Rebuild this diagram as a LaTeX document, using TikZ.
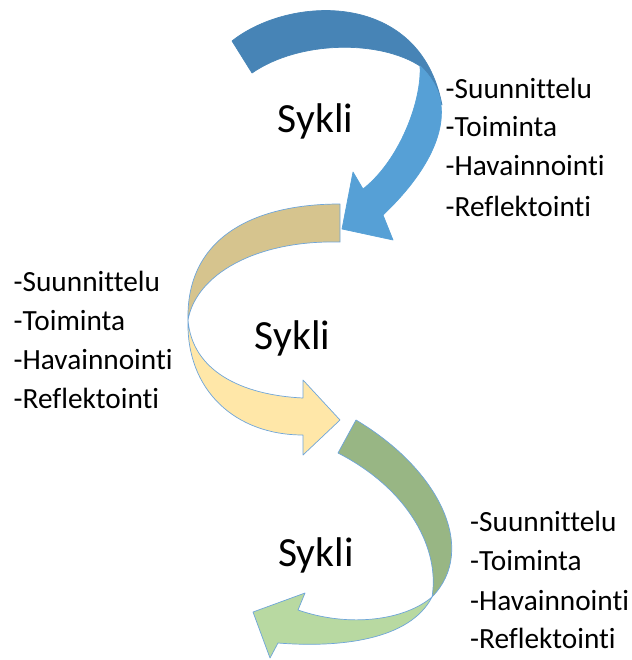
\documentclass[tikz,border=0pt]{standalone}
\usepackage{fontspec}
\setmainfont{Carlito}[Ligatures=NoCommon]
\definecolor{bluedark}{RGB}{71,132,182}
\definecolor{bluelight}{RGB}{86,160,214}
\definecolor{tandark}{RGB}{214,196,142}
\definecolor{yellowlight}{RGB}{255,231,168}
\definecolor{greendark}{RGB}{152,182,132}
\definecolor{greenlight}{RGB}{184,217,161}
\definecolor{edgeblue}{RGB}{110,165,218}
\tikzset{
  band/.style={draw=edgeblue, line width=0.7pt, line join=round},
  cyclelabel/.style={font=\fontsize{41.5}{49}\selectfont, inner sep=0pt, anchor=base},
  itemlabel/.style={font=\fontsize{29.3}{39}\selectfont, inner sep=0pt, anchor=base west},
}
\begin{document}
\begin{tikzpicture}[x=1pt,y=-1pt]
\useasboundingbox (0,0) rectangle (631,660);
% ---- blue arrow ----
\path[band, fill=bluedark, draw=bluedark]
  (232,41) .. controls (290,-5) and (420,-10) .. (442,105)
  -- (420,66) .. controls (380,40) and (300,40) .. (252,73) -- cycle;
\path[band, fill=bluelight, draw=bluelight]
  (420,66) .. controls (422,100) and (400,160) .. (363,189)
  -- (353,172) -- (342,229) -- (393,240) -- (383,215)
  .. controls (420,180) and (445,140) .. (441,105)
  .. controls (440,90) and (430,75) .. (420,66) -- cycle;
% ---- tan / yellow arrow ----
\path[band, fill=tandark]
  (340,204) .. controls (250,204) and (186,240) .. (188,320)
  .. controls (196,275) and (255,240) .. (340,242) -- cycle;
\path[band, fill=yellowlight]
  (188,320) .. controls (186,390) and (235,435) .. (303,435)
  -- (303,455) -- (340,420) -- (303,380) -- (303,398)
  .. controls (240,395) and (192,370) .. (188,320) -- cycle;
% ---- green arrow ----
\path[band, fill=greendark]
  (356,420) .. controls (440,470) and (478,550) .. (432,597)
  .. controls (440,550) and (410,490) .. (338,453) -- cycle;
\path[band, fill=greenlight]
  (432,597) .. controls (410,640) and (340,648) .. (278,643)
  -- (270,658) -- (253,612) -- (305,593) -- (298,610)
  .. controls (350,628) and (405,620) .. (432,597) -- cycle;
% ---- labels ----
\node[cyclelabel] (s1) at (315.5,133) {Sykli};
\node[cyclelabel] (s2) at (292.5,349) {Sykli};
\node[cyclelabel] (s3) at (316,566) {Sykli};
\node[itemlabel] (a1) at (445.5,98.3) {-Suunnittelu};
\node[itemlabel] (a2) at (445.5,136.7) {-Toiminta};
\node[itemlabel] (a3) at (445.5,176) {-Havainnointi};
\node[itemlabel] (a4) at (445.5,216) {-Reflektointi};
\node[itemlabel] (b1) at (13.5,291.7) {-Suunnittelu};
\node[itemlabel] (b2) at (13.5,330) {-Toiminta};
\node[itemlabel] (b3) at (13.5,369.3) {-Havainnointi};
\node[itemlabel] (b4) at (13.5,408.3) {-Reflektointi};
\node[itemlabel] (c1) at (470,531.7) {-Suunnittelu};
\node[itemlabel] (c2) at (470,570.7) {-Toiminta};
\node[itemlabel] (c3) at (470,610) {-Havainnointi};
\node[itemlabel] (c4) at (470,648.3) {-Reflektointi};
\end{tikzpicture}
\end{document}
